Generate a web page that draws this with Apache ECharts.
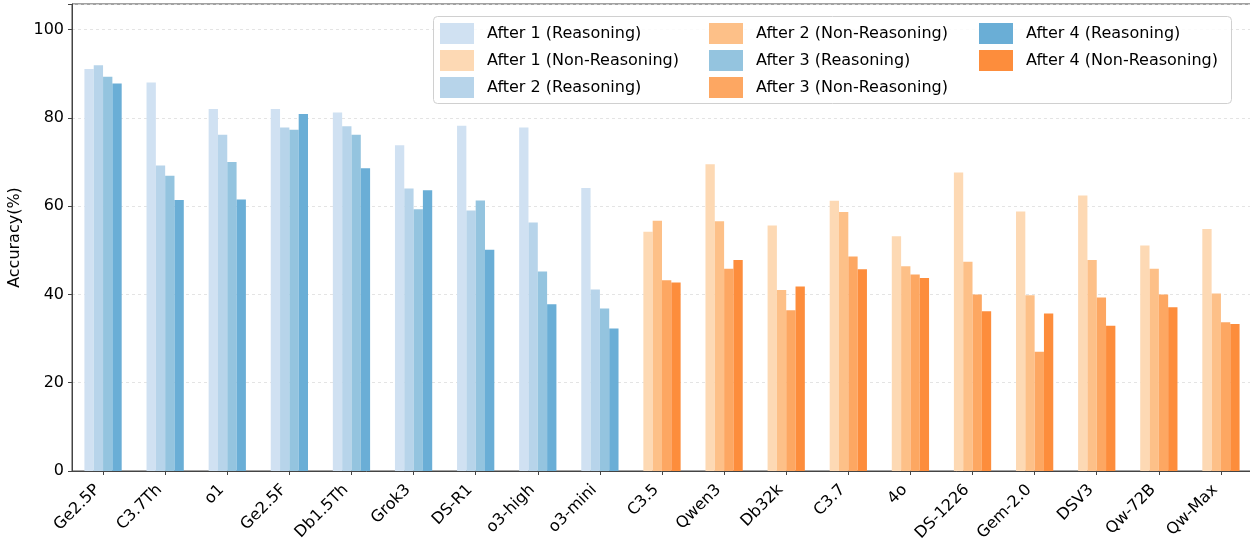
<!DOCTYPE html>
<html>
<head>
<meta charset="utf-8">
<script src="https://cdn.jsdelivr.net/npm/echarts@6/dist/echarts.min.js"></script>
<style>
html,body{margin:0;padding:0;background:#fff;}
#chart{width:1250px;height:541px;}
</style>
</head>
<body>
<div id="chart"></div>
<script>
// ---- data ----
const reasoningModels = ['Ge2.5P','C3.7Th','o1','Ge2.5F','Db1.5Th','Grok3','DS-R1','o3-high','o3-mini'];
const nonReasoningModels = ['C3.5','Qwen3','Db32k','C3.7','4o','DS-1226','Gem-2.0','DSV3','Qw-72B','Qw-Max'];

const after1R = [91.1, 88.0, 82.0, 82.0, 81.2, 73.8, 78.2, 77.8, 64.1];
const after2R = [91.9, 69.2, 76.2, 77.8, 78.1, 64.0, 59.0, 56.3, 41.1];
const after3R = [89.3, 66.9, 70.0, 77.3, 76.2, 59.3, 61.3, 45.2, 36.8];
const after4R = [87.8, 61.4, 61.5, 80.9, 68.6, 63.6, 50.1, 37.8, 32.3];

const after1NR = [54.2, 69.5, 55.6, 61.2, 53.2, 67.6, 58.8, 62.4, 51.1, 54.8];
const after2NR = [56.7, 56.6, 41.0, 58.7, 46.4, 47.4, 39.8, 47.8, 45.8, 40.2];
const after3NR = [43.2, 45.8, 36.4, 48.6, 44.5, 40.0, 27.0, 39.3, 40.0, 33.7];
const after4NR = [42.7, 47.8, 41.8, 45.7, 43.7, 36.2, 35.7, 32.9, 37.1, 33.3];

const seriesNames = ['After 1 (Reasoning)','After 1 (Non-Reasoning)','After 2 (Reasoning)','After 2 (Non-Reasoning)',
  'After 3 (Reasoning)','After 3 (Non-Reasoning)','After 4 (Reasoning)','After 4 (Non-Reasoning)'];
const yTicks = [0, 20, 40, 60, 80, 100];

// ---- build ----
const categories = reasoningModels.concat(nonReasoningModels);
const padR = arr => arr.concat(nonReasoningModels.map(() => null));
const padNR = arr => reasoningModels.map(() => null).concat(arr);

const colors = ['#d0e1f2','#fdd9b4','#b7d4ea','#fdc088','#94c4df','#fda762','#6aaed6','#fd8d3c'];
const dataSets = [padR(after1R), padNR(after1NR), padR(after2R), padNR(after2NR),
                  padR(after3R), padNR(after3NR), padR(after4R), padNR(after4NR)];

const series = dataSets.map((d, i) => ({
  name: seriesNames[i],
  type: 'bar',
  stack: 's' + Math.floor(i / 2),
  data: d,
  barWidth: '15%',
  barGap: '0%',
  itemStyle: { color: colors[i] },
  emphasis: { disabled: true }
}));

const FONT = 'DejaVu Sans';
const legendBase = {
  orient: 'vertical',
  top: 23,
  padding: 0,
  z: 20,
  itemWidth: 34,
  itemHeight: 21,
  itemGap: 6,
  icon: 'rect',
  selectedMode: false,
  textStyle: { fontFamily: FONT, fontSize: 16, color: '#000', padding: [0, 0, 0, 8] }
};

const chart = echarts.init(document.getElementById('chart'), null, { renderer: 'canvas' });
chart.setOption({
  animation: false,
  backgroundColor: '#fff',
  grid: { left: 72, top: 4, width: 1180, bottom: 70, outerBoundsMode: 'none', containLabel: false,
          show: true, borderColor: '#444', borderWidth: 1, backgroundColor: 'transparent' },
  legend: [
    Object.assign({}, legendBase, { left: 440, data: seriesNames.slice(0, 3) }),
    Object.assign({}, legendBase, { left: 709, data: seriesNames.slice(3, 6) }),
    Object.assign({}, legendBase, { left: 979, data: seriesNames.slice(6, 8) })
  ],
  graphic: [{
    type: 'rect', left: 433, top: 16, z: 3, zlevel: 0,
    shape: { width: 798, height: 87, r: 4 },
    style: { fill: 'rgba(255,255,255,0.85)', stroke: '#d0d0d0', lineWidth: 1 }
  }],
  xAxis: {
    type: 'category',
    data: categories,
    axisLine: { lineStyle: { color: '#444', width: 1 } },
    axisTick: { show: true, alignWithLabel: true, length: 4, lineStyle: { color: '#444' } },
    axisLabel: { rotate: 45, fontFamily: FONT, fontSize: 16, color: '#000', margin: 22, interval: 0, verticalAlign: 'bottom' },
    splitLine: { show: false }
  },
  yAxis: {
    type: 'value',
    min: 0, max: 105.8, interval: 20,
    name: 'Accuracy(%)',
    nameLocation: 'middle',
    nameRotate: 90,
    nameGap: 44,
    nameTextStyle: { fontFamily: FONT, fontSize: 16, color: '#000' },
    axisLine: { show: true, lineStyle: { color: '#444', width: 1 } },
    axisTick: { show: true, length: 4, lineStyle: { color: '#444' } },
    axisLabel: {
      fontFamily: FONT, fontSize: 16, color: '#000', margin: 8,
      formatter: v => (yTicks.indexOf(v) >= 0 ? String(v) : '')
    },
    splitLine: { show: true, lineStyle: { color: '#dddddd', type: [3, 3], width: 0.8 } }
  },
  series: series
});
</script>
</body>
</html>
